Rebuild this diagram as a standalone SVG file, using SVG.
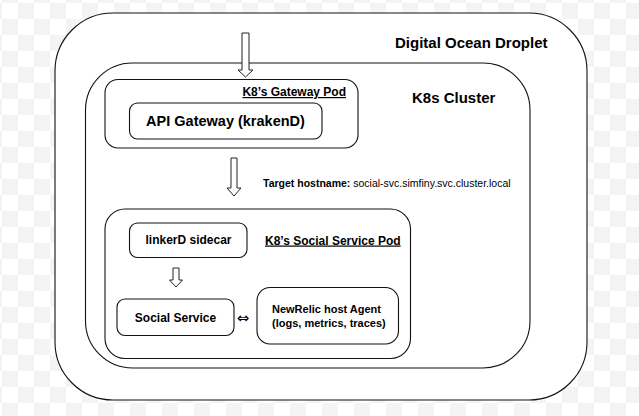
<svg xmlns="http://www.w3.org/2000/svg" width="639" height="416" viewBox="0 0 639 416">
<style>
.box{fill:#fff;stroke:#111;stroke-width:1.1}
.arr{fill:#fff;stroke:#222;stroke-width:1}
text{font-family:"Liberation Sans",Arial,sans-serif;fill:#000}
.b{font-weight:bold}
.u{text-decoration:underline}
</style>
<defs>
<pattern id="chk" x="2" y="3" width="32" height="32" patternUnits="userSpaceOnUse">
<rect width="32" height="32" fill="#fff"/>
<rect x="16" y="0" width="16" height="16" fill="#f4f4f4"/>
<rect x="0" y="16" width="16" height="16" fill="#f4f4f4"/>
</pattern>
</defs>
<rect width="639" height="416" fill="url(#chk)"/>
<g id="droplet">
<rect class="box" x="55" y="13" width="532" height="387" rx="58" ry="58"/>
<text class="b" x="395" y="48" font-size="15">Digital Ocean Droplet</text>
</g>
<g id="cluster">
<rect class="box" x="85.5" y="63" width="444.5" height="305" rx="47" ry="47"/>
<text class="b" x="412" y="103" font-size="15">K8s Cluster</text>
</g>
<g id="gateway-pod">
<rect class="box" x="105" y="79.5" width="253" height="68.5" rx="13" ry="13"/>
<text class="b u" x="346" y="96" font-size="12" text-anchor="end">K8’s Gateway Pod</text>
</g>
<g id="api-gateway">
<rect class="box" x="129.5" y="103" width="192.5" height="36" rx="8" ry="8"/>
<text class="b" x="225.5" y="126" font-size="14.5" text-anchor="middle">API Gateway (krakenD)</text>
</g>
<g id="hostname-label">
<text x="263" y="187" font-size="10.5"><tspan class="b">Target hostname:</tspan> social-svc.simfiny.svc.cluster.local</text>
</g>
<g id="social-pod">
<rect class="box" x="105" y="209" width="305.5" height="149.5" rx="20" ry="20"/>
<text class="b u" x="265" y="244.5" font-size="12">K8’s Social Service Pod</text>
</g>
<g id="linkerd">
<rect class="box" x="129.5" y="223" width="117.5" height="34.5" rx="8" ry="8"/>
<text class="b" x="188.5" y="244" font-size="12" text-anchor="middle">linkerD sidecar</text>
</g>
<g id="social-service">
<rect class="box" x="117" y="299" width="117" height="36.5" rx="8" ry="8"/>
<text class="b" x="175.5" y="322" font-size="12" text-anchor="middle">Social Service</text>
</g>
<g id="newrelic">
<rect class="box" x="257" y="287.5" width="141.5" height="56.5" rx="13" ry="13"/>
<text class="b" x="272" y="313" font-size="11">NewRelic host Agent</text>
<text class="b" x="272" y="327" font-size="11">(logs, metrics, traces)</text>
</g>
<g id="connectors">
<path class="arr" d="M242,33 H249 V70 H253 L245.5,77 L238,70 H242 Z"/>
<path class="arr" d="M231,158 H237 V188 H241 L234,196 L227,188 H231 Z"/>
<path class="arr" d="M173,268 H179 V280 H182.5 L176,287 L169.5,280 H173 Z"/>
<text x="243" y="322.5" font-size="15" text-anchor="middle" style="font-family:'DejaVu Sans',sans-serif">⇔</text>
</g>
</svg>
